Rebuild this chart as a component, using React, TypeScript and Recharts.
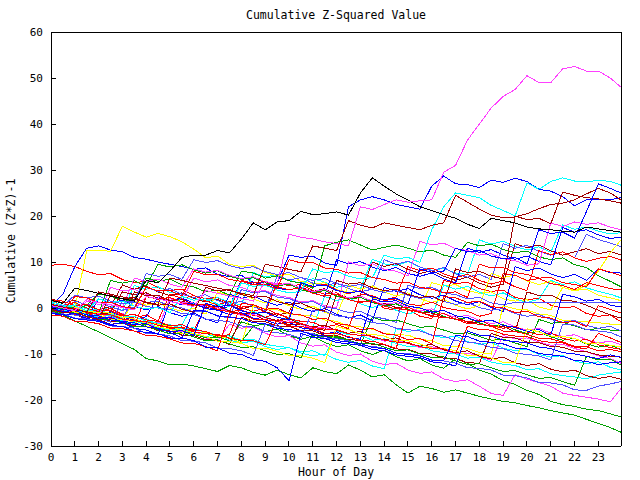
import { LineChart, Line, XAxis, YAxis } from "recharts";

// x positions: half-hour samples, last sample at the right edge of the day
const hours = [
  0, 0.5, 1, 1.5, 2, 2.5, 3, 3.5, 4, 4.5, 5, 5.5,
  6, 6.5, 7, 7.5, 8, 8.5, 9, 9.5, 10, 10.5, 11, 11.5,
  12, 12.5, 13, 13.5, 14, 14.5, 15, 15.5, 16, 16.5, 17, 17.5,
  18, 18.5, 19, 19.5, 20, 20.5, 21, 21.5, 22, 22.5, 23, 23.5, 23.95,
];
const hourTicks = [0, 1, 2, 3, 4, 5, 6, 7, 8, 9, 10, 11, 12, 13, 14, 15, 16, 17, 18, 19, 20, 21, 22, 23];
const valueTicks = [-30, -20, -10, 0, 10, 20, 30, 40, 50, 60];

const magentaHigh = [
  0.5, 0, -0.6, 1.8, 1.2, 0.7, 0.1, -0.4, 2.5, 2.0, 1.4, 0.9,
  0.3, 3.8, 3.2, 2.6, 2.1, 1.5, 5.8, 5.2, 16.0, 15.4, 15.0, 14.4,
  14.0, 13.5, 22.0, 21.4, 22.5, 23.5, 23.0, 23.3, 23.5, 29.5, 31.0, 36.5,
  40.0, 43.5, 46.0, 47.5, 50.5, 49.0, 49.0, 52.0, 52.5, 51.5, 51.5, 50.0, 48.0,
];
const blackRun = [
  1.7, 1.0, 4.3, 3.8, 3.2, 2.6, 2.0, 1.5, 6.0, 5.5, 8.0, 11.0,
  11.5, 11.5, 12.5, 12.0, 15.0, 18.5, 17.0, 18.7, 19.0, 21.0, 20.3, 20.5,
  20.9, 20.2, 25.0, 28.3, 26.5, 24.8, 23.5, 22.0, 21.2, 20.3, 19.5, 18.2,
  17.3, 19.5, 19.0, 18.5, 17.6, 17.2, 17.0, 16.7, 16.5, 17.6, 17.2, 16.8, 16.5,
];
const blueEarly = [
  0.5, 3.0, 9.0, 13.0, 13.5, 12.6, 12.2, 11.0, 10.6, 10.0, 9.5, 9.0,
  8.4, 8.7, 7.3, 6.8, 7.1, 5.6, 5.0, 5.4, 11.5, 11.0, 11.3, 9.8,
  9.2, 22.0, 23.5, 24.2, 23.5, 22.5, 22.0, 21.5, 26.5, 28.7, 27.0, 26.8,
  26.2, 27.8, 27.3, 28.2, 27.5, 25.8, 25.4, 24.2, 22.2, 23.5, 23.5, 23.5, 24.0,
];
const blueLate = [
  0, -0.8, -0.5, -1.5, -2.3, -2.0, -3.1, -3.6, -3.4, -4.6, -5.2, -4.9,
  -6.0, 1.0, 0.3, 0.6, -0.6, -1.2, -0.9, -2.0, -2.6, 5.5, 4.7, 5.0,
  3.8, 3.3, 3.6, 2.4, 1.8, 2.1, 0.9, 8.5, 7.7, 8.0, 13.0, 12.2,
  12.5, 11.3, 10.7, 11.0, 9.6, 17.0, 16.2, 16.5, 15.2, 21.0, 27.0, 26.0, 25.0,
];
const cyanTop = [
  1.0, 0.2, 0.5, -0.6, 2.0, 1.2, 1.5, 0.4, -0.2, 0.1, -1.0, 2.5,
  1.7, 2.0, 0.9, 0.3, 5.5, 4.7, 5.0, 3.9, 3.3, 3.6, 8.5, 7.7,
  8.0, 6.9, 6.3, 6.6, 11.5, 10.7, 11.0, 9.9, 17.0, 22.0, 25.0, 24.5,
  24.0, 22.3, 21.2, 20.0, 27.2, 25.8, 27.5, 28.3, 27.6, 27.4, 27.8, 27.5, 26.7,
];
const darkRedTop = [
  0.8, 0.2, -0.3, -0.9, 3.5, 3.0, 2.4, 1.9, 1.3, 0.8, 6.5, 6.0,
  5.4, 4.9, 4.3, 3.8, 3.2, 2.7, 9.5, 9.0, 8.4, 7.9, 13.5, 13.0,
  12.5, 19.0, 18.0, 17.4, 18.5, 18.0, 17.5, 17.0, 18.0, 18.5, 24.5, 23.0,
  21.5, 20.2, 19.6, 19.8, 20.5, 21.6, 22.5, 22.8, 23.5, 24.8, 26.0, 25.0, 23.5,
];
const darkRedJump = [
  -0.3, -1.0, -0.8, -1.9, -2.5, 2.8, 2.0, 2.3, 1.1, 0.6, 0.9, -0.3,
  -0.9, 4.5, 3.7, 4.0, 2.9, 2.3, 2.6, 1.4, 0.8, 1.1, -0.1, -0.7,
  6.0, 5.2, 5.5, 4.4, 3.8, 4.1, 2.9, 2.3, 2.6, 1.4, 8.5, 7.7,
  8.0, 6.9, 6.3, 20.0, 19.2, 19.5, 18.3, 25.2, 24.5, 24.0, 23.7, 23.3, 22.8,
];
const redHighStart = [
  9.3, 9.5, 9.0, 8.0, 7.2, 7.5, 6.2, 5.5, 5.8, 4.4, 3.8, 4.1,
  2.7, 2.0, 2.3, 0.8, 0.2, 0.5, -1.0, 5.5, 4.8, 5.1, 3.8, 3.0,
  3.3, 1.8, 1.3, 1.6, 0.0, -0.5, -0.2, -1.8, -2.3, 6.0, 5.3, 5.6,
  4.2, 3.6, 3.9, 2.3, 1.8, 2.1, 0.6, 0.0, 0.3, -1.2, -1.8, -1.5, -3.0,
];
const yellowEarly = [
  0.8, 0.3, -0.2, 12.5, 12.6, 12.3, 17.8, 16.5, 15.4, 16.2, 15.5, 14.4,
  12.8, 10.9, 11.3, 9.5, 9.0, 9.3, 7.7, 7.0, 7.3, 5.8, 5.2, 5.5,
  4.0, 3.4, 3.7, 2.2, 1.7, 2.0, 0.5, -0.2, 5.5, 4.8, 5.1, 3.8,
  3.2, 3.5, 2.0, 1.5, 1.8, 0.2, -0.4, 4.5, 3.8, 4.1, 2.8, 2.2, 1.6,
];
const greenLowest = [
  -0.5, -1.5, -2.8, -4.0, -5.2, -6.5, -7.8, -9.0, -11.0, -11.5, -12.4, -12.2,
  -12.6, -13.2, -13.8, -12.5, -13.0, -14.0, -14.6, -13.5, -14.5, -15.2, -13.0, -13.8,
  -14.3, -12.4, -13.5, -15.0, -14.5, -16.7, -18.5, -17.0, -17.5, -18.3, -17.8, -18.5,
  -19.2, -19.8, -20.3, -20.6, -21.2, -21.7, -22.3, -22.8, -23.3, -24.2, -25.1, -26.0, -27.0,
];
const greenLow = [
  0.5, -0.4, -0.2, -1.3, -1.0, -1.9, -1.2, -2.6, -3.5, -3.0, -4.2, -5.0,
  -4.3, -5.5, -6.4, -6.0, -7.3, -4.0, -5.1, -4.6, -6.0, -6.8, -6.1, -7.5,
  -8.4, -8.0, -9.3, -10.1, -9.2, -10.6, -11.5, -11.0, -12.4, -13.1, -11.0, -12.0,
  -13.5, -14.4, -15.8, -16.6, -17.9, -18.8, -20.3, -21.0, -21.4, -22.0, -22.3, -23.0, -23.7,
];
const magentaLow = [
  0.0, -0.8, -0.5, -2.0, -0.5, -1.4, -1.1, -2.5, -3.4, -3.1, -4.5, -5.2,
  -4.9, -6.5, -7.2, -3.5, -4.4, -4.1, -5.5, -6.3, -6.0, -7.6, -8.3, -8.0,
  -9.6, -10.3, -10.0, -11.6, -12.3, -12.0, -13.5, -14.2, -13.9, -15.4, -16.0, -15.6,
  -17.0, -18.6, -19.0, -14.5, -15.5, -16.2, -17.0, -18.5, -19.0, -19.4, -19.8, -20.4, -17.5,
];
const day01 = [
  1.2, 0.3, 0.9, -0.2, -0.9, 0.4, -0.6, 4.9, 4.1, 4.6, 3.4, 3.1,
  2.1, 1.5, 2.3, 1.2, 0.7, 7.7, 6.8, 7.2, 6.0, 5.4, 6.4, 5.6,
  4.5, 5.0, 4.1, 10.6, 9.6, 9.2, 10.1, 8.9, 8.2, 8.6, 7.6, 7.3,
  14.8, 13.9, 14.5, 13.4, 12.6, 13.3, 12.1, 18.1, 17.1, 17.6, 16.7, 16.1, 16.4,
];
const day02 = [
  0.3, -0.5, 0.2, -0.9, -1.4, -0.8, -2.0, -2.6, -1.9, 2.5, 1.6, 2.2,
  1.0, 0.3, -0.5, 0.4, 6.0, 5.1, 5.6, 4.3, 3.9, 4.6, 3.3, 2.5,
  10.5, 9.6, 10.1, 8.9, 8.1, 8.8, 7.5, 6.9, 7.6, 6.3, 5.5, 13.0,
  12.1, 12.7, 11.5, 10.6, 11.3, 10.1, 9.4, 17.5, 16.5, 17.0, 15.9, 15.1, 15.4,
];
const day03 = [
  -0.5, -1.3, 1.5, 0.7, 1.3, 0.2, -0.5, 0.2, 4.5, 3.6, 4.2, 3.0,
  2.3, 2.9, 1.6, 0.8, 1.5, 0.3, -0.6, 7.0, 6.1, 6.6, 5.4, 4.8,
  5.5, 4.2, 3.5, 4.1, 10.5, 9.5, 10.2, 8.9, 8.1, 8.8, 7.4, 6.7,
  7.3, 6.2, 14.0, 13.0, 13.6, 12.3, 11.5, 12.2, 10.9, 16.0, 14.9, 14.1, 13.3,
];
const day04 = [
  2.0, 1.1, 1.7, 0.5, -0.3, 0.3, 5.0, 4.1, 4.8, 3.5, 2.7, 3.3,
  2.1, 1.3, 1.9, 0.6, -0.2, 0.5, -0.8, -1.6, -0.9, 4.5, 3.6, 4.2,
  2.9, 2.1, 2.8, 10.0, 9.0, 9.7, 8.4, 7.5, 8.1, 6.9, 6.0, 6.7,
  5.4, 4.5, 5.2, 14.0, 13.1, 13.7, 12.4, 11.5, 12.2, 12.9, 11.8, 12.3, 11.5,
];
const day05 = [
  0.0, -0.8, -0.2, -1.4, -2.0, -1.3, -2.6, 1.5, 0.6, 1.2, 0.0, -0.7,
  -0.1, -1.3, 3.5, 2.6, 3.2, 1.9, 1.1, 1.8, 0.5, -0.3, 0.4, -0.9,
  -1.7, 5.0, 4.1, 4.8, 3.5, 2.6, 3.3, 2.0, 1.2, 1.9, 0.6, -0.2,
  0.5, 7.5, 6.6, 7.2, 5.9, 5.1, 5.8, 4.5, 3.7, 5.0, 8.0, 12.0, 14.8,
];
const day06 = [
  1.5, 0.6, 1.2, 0.0, -0.8, -0.1, -1.4, -2.2, -1.5, -2.8, 3.0, 2.1,
  2.7, 1.5, 0.7, 1.4, 0.1, -0.7, 0.0, -1.3, -2.1, 5.5, 4.6, 5.2,
  3.9, 3.1, 3.8, 2.5, 1.7, 2.4, 9.0, 8.1, 8.7, 7.4, 6.6, 7.3,
  6.0, 5.2, 5.9, 4.6, 3.8, 12.5, 11.6, 12.2, 10.9, 10.1, 10.8, 11.2, 10.4,
];
const day07 = [
  -1.0, -1.8, -1.2, -2.4, 2.0, 1.1, 1.7, 0.4, -0.4, 0.3, -1.0, -1.8,
  -1.1, -2.4, -3.2, 3.0, 2.1, 2.7, 1.4, 0.6, 1.3, 0.0, -0.8, -0.1,
  -1.4, -2.2, -1.5, -2.8, 4.5, 3.6, 4.2, 2.9, 2.1, 2.8, 1.5, 0.7,
  1.4, 0.1, -0.7, 9.0, 8.1, 8.7, 7.4, 6.6, 7.3, 6.0, 8.5, 7.7, 7.6,
];
const day08 = [
  0.6, -0.2, 0.4, -0.8, -1.6, -0.9, -2.2, -3.0, -2.3, -3.6, -4.4, -3.7,
  1.0, 0.1, 0.7, -0.6, -1.4, -0.7, -2.0, -2.8, -2.1, -3.4, -4.2, 2.5,
  1.6, 2.2, 0.9, 0.1, 0.8, -0.5, -1.3, -0.6, -1.9, 5.0, 4.1, 4.7,
  3.4, 2.6, 3.3, 2.0, 1.2, 1.9, 6.0, 5.1, 5.7, 4.4, 3.6, 3.0, 2.2,
];
const day09 = [
  -0.2, -0.6, -1.5, -1.2, -2.0, -2.3, -1.4, -2.5, -3.1, -3.4, -4.5, -4.1,
  -5.0, 0.5, 0.1, -0.9, -0.4, -1.6, -2.0, -1.1, -2.3, -2.9, -3.1, -4.2,
  -3.6, -4.5, 3.0, 2.7, 1.6, 2.0, 0.9, 0.5, 1.3, 0.1, -0.4, -0.7,
  -1.8, -1.2, 7.5, 7.1, 6.0, 6.4, 5.3, 4.9, 4.0, 5.5, 4.9, 4.2, 3.9,
];
const day10 = [
  0.9, 0.2, -0.3, 0.6, 3.0, 2.6, 1.5, 1.9, 6.5, 5.8, 6.3, 5.0,
  4.6, 3.5, 3.9, 2.8, 8.0, 7.6, 6.5, 7.0, 5.9, 5.4, 4.3, 13.5,
  14.3, 14.8, 13.7, 12.6, 13.2, 13.7, 13.0, 12.2, 12.6, 11.5, 11.0, 14.3,
  13.5, 13.9, 12.7, 12.0, 12.4, 11.1, 10.5, 10.9, 9.4, 8.8, 7.0, 5.8, 4.6,
];
const day11 = [
  0.2, -0.5, -0.1, -1.3, -1.7, -2.5, -2.2, 2.0, 1.2, 1.5, 0.4, 0.0,
  -0.9, -0.6, -1.8, -2.1, 4.0, 3.3, 3.6, 2.4, 2.0, 1.1, 1.4, 0.2,
  -0.2, -1.0, -0.7, -1.9, -2.3, -3.1, 5.0, 4.2, 4.5, 3.3, 2.9, 2.0,
  2.3, 1.1, 0.7, 1.2, 1.2, 1.2, 1.2, 1.2, 1.2, 1.2, 1.2, 1.2, 1.2,
];
const day12 = [
  -0.8, -1.5, -1.1, -2.3, -2.7, -3.6, -3.2, -4.4, -4.8, -5.7, 1.5, 0.7,
  1.1, -0.1, -0.5, -1.4, -1.0, -2.2, -2.6, -3.5, -3.1, -4.3, -4.7, -5.6,
  -5.2, -6.4, -6.8, 2.0, 1.3, 1.6, 0.4, 0.0, -0.9, -0.5, -1.7, -2.1,
  -3.0, -2.6, -3.8, -4.2, -5.1, -4.7, -5.9, 3.0, 2.4, 1.5, 1.9, 0.6, 0.2,
];
const day13 = [
  0.4, 0.0, -0.9, -0.6, -1.8, 4.5, 3.7, 4.1, 2.9, 2.6, 1.5, 1.8,
  6.5, 5.7, 6.1, 4.9, 4.5, 3.5, 3.8, 2.7, 2.3, 1.3, 1.6, 0.5,
  0.0, 10.0, 9.2, 9.6, 8.4, 8.0, 7.0, 14.5, 13.7, 14.1, 12.9, 12.5,
  11.5, 11.8, 10.7, 10.3, 9.3, 9.6, 18.5, 17.7, 18.7, 18.2, 18.5, 17.6, 17.0,
];
const day14 = [
  1.8, 1.5, 0.5, 0.8, -0.4, -0.6, -1.7, -1.4, -2.6, -2.9, -3.9, -3.6,
  -4.8, -5.1, -6.1, -5.8, 1.0, 0.7, -0.3, 0.0, -1.2, -1.5, -2.5, -2.2,
  -3.4, -3.7, -4.7, -4.4, -5.6, -5.9, -6.9, -6.6, -7.8, 2.5, 2.2, 1.2,
  1.5, 0.3, 0.0, -1.0, -0.7, -1.9, -2.2, -3.2, -2.9, -4.1, 0.5, -0.3, -1.1,
];
const day15 = [
  -0.6, -1.4, -1.3, -2.5, -2.6, -3.5, -3.4, 3.5, 2.7, 2.8, 1.6, 1.5,
  0.6, 0.7, -0.5, -0.6, -1.5, -1.4, -2.6, -2.7, -3.6, -3.5, -4.7, -4.8,
  3.0, 2.2, 2.3, 1.1, 1.0, 0.1, 0.2, -1.0, -1.1, -2.0, -1.9, -3.1,
  -3.2, -4.1, -4.0, -5.2, 3.5, 2.7, 2.8, 1.6, 1.5, 0.6, -0.5, -1.5, -2.2,
];
const day16 = [
  1.1, 0.4, 0.2, -0.7, -1.0, -1.1, -2.0, -2.3, -3.4, -3.5, -4.0, -4.9,
  -5.2, -5.3, -6.2, -6.5, -7.6, 0.5, -0.2, -0.4, -1.3, -1.6, -1.7, -2.6,
  -2.9, -4.0, -4.1, -4.6, -5.5, -5.8, -5.9, -6.8, -7.1, -8.2, -8.3, -8.8,
  -9.7, -10.0, 0.5, -0.2, -0.4, -1.3, -1.6, -2.7, -2.8, -3.0, -3.2, -3.5, -3.7,
];
const day17 = [
  0.0, -0.9, -0.7, -1.5, -2.3, -2.1, -2.9, -3.7, -3.5, -4.3, -5.1, -4.9,
  -5.7, -6.5, -6.3, -7.1, -3.0, -3.8, -3.6, -4.4, -5.2, -5.0, -5.8, -6.6,
  -6.4, -7.2, -8.0, -2.0, -2.8, -2.6, -3.4, -4.2, -4.0, -4.8, -5.6, -5.4,
  -6.2, -7.0, -6.8, -7.6, -8.4, -2.5, -3.3, -3.1, -3.9, -4.7, -4.5, -4.8, -5.0,
];
const day18 = [
  -0.4, -0.6, -1.6, -1.9, -2.2, -3.1, 1.5, 1.3, 0.3, 0.0, -0.3, -1.2,
  -1.4, -2.4, -2.7, -3.0, -3.9, -4.1, -5.1, -5.4, -5.7, -6.6, -0.5, -0.7,
  -1.7, -2.0, -2.3, -3.2, -3.4, -4.4, -4.7, -5.0, -5.9, -6.1, -7.1, -7.4,
  -7.7, -8.6, -8.8, -9.8, -10.1, -10.4, -11.3, -3.5, -3.7, -4.7, -5.0, -5.3, -6.3,
];
const day19 = [
  0.7, 0.0, -0.1, -1.0, -1.4, -1.5, -2.4, -2.8, -2.9, -3.8, -4.2, -4.3,
  -5.2, -5.6, -5.7, -6.6, -7.0, -7.1, -8.0, -2.5, -3.2, -3.3, -4.2, -4.6,
  -4.7, -5.6, -6.0, -6.1, -7.0, -7.4, -7.5, -8.4, -8.8, -8.9, -9.8, -4.0,
  -4.7, -4.8, -5.7, -6.1, -6.2, -7.1, -7.5, -7.6, -8.5, -8.9, -5.5, -6.5, -7.5,
];
const day20 = [
  1.4, 0.6, 0.5, -0.6, -0.3, -1.3, -2.0, -1.8, -2.9, -3.3, -3.6, -4.5,
  -4.3, -5.4, -5.8, -6.1, -7.0, -6.8, -7.9, -8.3, -8.6, -9.5, -9.3, -10.4,
  -5.0, -5.8, -5.9, -7.0, -6.7, -7.7, -8.4, -8.2, -9.3, -9.7, -10.0, -10.9,
  -10.7, -11.8, -12.2, -12.5, -13.4, -13.2, -14.3, -14.7, -15.0, -15.4, -14.6, -14.2, -13.9,
];
const day21 = [
  -1.2, -1.4, -2.3, -2.6, -2.9, -3.8, -4.0, -5.0, -5.3, -5.6, -6.5, -6.7,
  -0.5, -0.7, -1.7, -2.0, -2.3, -3.2, -3.4, -4.4, -4.7, -5.0, -5.9, -6.1,
  -7.1, -7.4, -7.7, -8.6, -8.8, -9.8, -10.1, -10.4, -11.3, -11.5, -6.0, -6.2,
  -7.2, -7.5, -7.8, -8.7, -8.9, -9.9, -10.2, -10.5, -11.4, -11.6, -12.3, -11.9, -11.7,
];
const day22 = [
  0.3, -0.4, -0.5, -1.5, -1.7, -2.6, -2.9, -3.2, -4.1, -4.4, -5.3, -6.5,
  -7.1, -8.5, -8.7, -9.8, -10.1, -11.2, -11.6, -13.0, -15.8, -5.5, -6.4, -6.6,
  -7.5, -7.8, -8.1, -9.0, -9.3, -10.2, -10.5, -10.8, -11.7, -12.0, -12.6, -5.0,
  -5.9, -6.1, -7.0, -7.3, -7.6, -8.5, -8.8, -9.7, -10.0, -10.5, -11.0, -10.2, -10.7,
];
const day23 = [
  -0.3, -1.1, -0.9, -1.8, -2.6, -2.4, -3.3, -4.1, -3.9, -4.8, -5.6, -5.4,
  -6.3, -7.1, -6.9, -7.8, -8.6, -8.4, -9.3, -10.1, -9.9, -10.8, -5.5, -6.3,
  -6.1, -7.0, -7.8, -7.6, -8.5, -9.3, -9.1, -10.0, -10.8, -10.6, -11.5, -12.3,
  -12.1, -13.0, -13.8, -13.6, -14.5, -15.3, -15.1, -16.0, -16.8, -10.5, -11.3, -11.1, -12.4,
];
const day24 = [
  0.8, 0.1, -0.1, -1.0, -1.2, -1.9, -2.8, -2.6, -3.3, -4.2, 2.0, 1.3,
  1.1, 0.2, 0.0, -0.7, -1.6, -1.4, -2.1, -3.0, -2.8, -3.5, -4.4, -4.2,
  -4.9, -5.8, -5.6, -6.3, -7.2, -7.0, -7.7, -8.6, -8.4, -9.1, -10.0, -9.8,
  -10.5, -11.4, -6.0, -6.7, -6.5, -7.4, -8.1, -7.9, -8.8, -9.5, -10.4, -11.0, -12.0,
];
const day25 = [
  -0.1, -0.9, -1.0, -1.9, -2.0, -2.9, -3.0, -3.9, -4.0, -4.9, -5.0, -5.9,
  -6.0, -6.9, -7.0, -7.9, -2.0, -2.9, -3.0, -3.9, -4.0, -4.9, -5.0, -5.9,
  -6.0, -6.9, -7.0, -7.9, -8.0, -8.9, -9.0, -9.9, -10.0, -10.9, -11.0, -11.9,
  -12.0, -5.5, -6.4, -6.5, -7.4, -7.5, -8.4, -8.5, -9.4, -9.5, -10.2, -10.5, -10.7,
];
const day26 = [
  0.5, 0.1, -0.9, -1.0, -1.4, -2.5, -2.4, -3.1, -4.0, -4.1, -4.6, -5.6,
  -5.5, -6.2, -7.2, -7.3, -7.7, -8.8, -8.7, -9.4, -10.3, -10.4, -10.9, -11.9,
  -4.0, -4.7, -5.6, -5.7, -6.1, -7.2, -7.1, -7.8, -8.7, -8.8, -9.3, -10.3,
  -10.2, -10.9, -11.8, -11.9, -4.5, -5.2, -6.1, -6.2, -6.6, -7.7, -7.6, -8.1, -8.5,
];
const day27 = [
  -1.5, -1.8, -2.9, -3.0, -3.4, -4.4, -4.5, -5.0, -6.0, -6.1, -6.7, -7.6,
  -7.7, -8.4, -9.3, -1.0, -1.3, -2.4, -2.5, -2.9, -3.9, -4.0, -4.5, -5.5,
  -5.6, -6.2, -7.1, -7.2, -7.9, -8.8, -0.5, -0.8, -1.9, -2.0, -2.4, -3.4,
  -3.5, -4.0, -5.0, -5.1, -5.7, -6.6, -6.7, -7.4, -8.3, -8.4, -9.3, -9.0, -9.5,
];
const day28 = [
  0.0, -0.7, 2.5, 2.2, 1.2, 1.3, 0.3, -0.1, 4.5, 3.7, 3.8, 2.6,
  8.0, 7.2, 7.3, 6.2, 5.8, 5.0, 5.2, 4.1, 10.5, 9.8, 9.9, 8.7,
  8.4, 7.6, 7.7, 6.6, 6.2, 5.4, 5.6, 4.5, 4.1, 3.3, 3.5, 2.3,
  9.5, 8.7, 8.8, 7.7, 7.3, 6.5, 6.6, 5.5, 5.1, 4.6, 8.5, 7.8, 7.0,
];
const day29 = [
  -0.9, -1.2, -2.2, -2.4, -2.9, -3.9, -4.0, -4.4, -5.5, -5.6, -6.1, -7.1,
  -7.2, -7.6, -8.7, -8.8, -9.3, -10.3, -3.5, -3.9, -5.0, -5.1, -5.6, -6.6,
  -6.7, -7.1, -8.2, -8.3, -8.8, -9.8, -9.9, -10.3, -11.4, -11.5, -12.0, -13.0,
  -13.1, -13.5, -14.6, -14.7, -15.2, -16.2, -16.3, -16.7, -17.8, -17.9, -17.0, -16.5, -16.0,
];
const day30 = [
  0.5, -0.2, 0.3, -0.6, -1.2, 6.0, 5.4, 5.9, 4.8, 9.5, 8.9, 9.4,
  8.3, 7.6, 8.1, 6.9, 6.2, 6.6, 5.5, 4.8, 5.2, 4.0, 3.3, 3.8,
  2.6, 1.9, 2.3, 1.2, 0.5, 0.9, -0.3, -1.0, -0.6, -1.8, -2.5, -2.1,
  -3.3, -4.0, -3.6, -4.8, -5.5, -5.1, -6.3, -7.0, -6.6, -7.8, -8.5, -8.1, -9.0,
];
const day31 = [
  0.2, -0.4, -1.1, 1.5, 0.8, 1.2, 0.1, 6.5, 5.8, 6.3, 5.2, 4.5,
  8.5, 7.8, 8.2, 7.1, 6.4, 6.8, 5.7, 5.0, 5.4, 4.3, 3.6, 4.0,
  2.9, 2.2, 2.6, 1.5, 0.8, 1.2, 0.1, -0.6, -0.2, -1.3, -2.0, -1.6,
  -2.7, -3.4, -3.0, -4.1, -4.8, -4.4, -5.5, -6.2, -5.8, -6.9, -7.6, -7.2, -8.0,
];
const day32 = [
  1.0, 0.4, 2.8, 2.2, 2.6, 1.5, 0.9, 1.3, 7.5, 6.9, 7.3, 6.2,
  10.5, 9.9, 10.3, 9.2, 8.6, 9.0, 7.9, 7.3, 7.7, 6.6, 6.0, 6.4,
  5.3, 4.7, 5.1, 4.0, 3.4, 3.8, 2.7, 2.1, 2.5, 1.4, 0.8, 1.2,
  0.1, -0.5, -0.1, -1.2, -1.8, -1.4, -2.5, -3.1, -2.7, -3.8, -4.4, -4.0, -5.0,
];
const day33 = [
  -0.4, -1.1, -0.7, -1.9, -2.5, -2.1, -3.3, -3.9, 2.5, 1.9, 2.3, 1.1,
  0.5, 0.9, -0.3, -0.9, 6.0, 5.4, 5.8, 4.6, 4.0, 4.4, 3.2, 2.6,
  3.0, 1.8, 1.2, 1.6, 0.4, -0.2, 0.2, -1.0, -1.6, -1.2, -2.4, -3.0,
  -2.6, -3.8, -4.4, -4.0, -5.2, -5.8, -5.4, -6.6, -7.2, -6.8, -8.0, -8.6, -9.0,
];
const day34 = [
  0.6, 0.0, 0.4, -0.8, -1.4, -1.0, 3.5, 2.9, 3.3, 2.1, 1.5, 1.9,
  0.7, 0.1, 0.5, -0.7, -1.3, -0.9, -2.1, -2.7, -2.3, -3.5, -4.1, -3.7,
  -4.9, -5.5, -5.1, -6.3, -6.9, -6.5, -7.7, -8.3, -7.9, -9.1, -9.7, -9.3,
  -10.5, -11.1, -10.7, -11.9, -12.5, -12.1, -13.3, -13.9, -13.5, -14.7, -15.3, -14.9, -15.5,
];
const day35 = [
  0.1, -0.6, -0.2, -1.4, -2.0, -1.6, -2.8, -3.4, -3.0, -4.2, -4.8, -4.4,
  -5.6, -6.2, -5.8, -7.0, -7.6, -7.2, -8.4, -9.0, -8.6, -9.8, -10.4, -10.0,
  -11.2, -11.8, -11.4, -12.6, -13.2, -4.5, -5.1, -4.7, -5.9, -6.5, -6.1, -7.3,
  -7.9, -7.5, -8.7, -9.3, -8.9, -10.1, -10.7, -10.3, -11.5, -12.1, -11.7, -12.9, -13.5,
];

const RED = "#ff0000";
const GREEN = "#00a000";
const BLUE = "#0000ff";
const MAGENTA = "#ff40ff";
const CYAN = "#00ffff";
const DARKRED = "#a00000";
const YELLOW = "#ffff00";
const SLATE = "#5050ff";
const BLACK = "#000000";

const series = [
  { id: "redHighStart", values: redHighStart, color: RED },
  { id: "greenLow", values: greenLow, color: GREEN },
  { id: "blueEarly", values: blueEarly, color: BLUE },
  { id: "magentaLow", values: magentaLow, color: MAGENTA },
  { id: "day01", values: day01, color: CYAN },
  { id: "day04", values: day04, color: DARKRED },
  { id: "yellowEarly", values: yellowEarly, color: YELLOW },
  { id: "day03", values: day03, color: SLATE },
  { id: "day06", values: day06, color: RED },
  { id: "day10", values: day10, color: GREEN },
  { id: "day02", values: day02, color: BLUE },
  { id: "day13", values: day13, color: MAGENTA },
  { id: "day08", values: day08, color: CYAN },
  { id: "day15", values: day15, color: DARKRED },
  { id: "day05", values: day05, color: YELLOW },
  { id: "day11", values: day11, color: SLATE },
  { id: "day09", values: day09, color: RED },
  { id: "day30", values: day30, color: GREEN },
  { id: "day17", values: day17, color: GREEN },
  { id: "day07", values: day07, color: BLUE },
  { id: "day31", values: day31, color: MAGENTA },
  { id: "day24", values: day24, color: MAGENTA },
  { id: "day20", values: day20, color: CYAN },
  { id: "day35", values: day35, color: CYAN },
  { id: "day25", values: day25, color: DARKRED },
  { id: "day34", values: day34, color: DARKRED },
  { id: "day16", values: day16, color: YELLOW },
  { id: "day18", values: day18, color: SLATE },
  { id: "day32", values: day32, color: SLATE },
  { id: "day14", values: day14, color: RED },
  { id: "day33", values: day33, color: RED },
  { id: "day23", values: day23, color: GREEN },
  { id: "day12", values: day12, color: BLUE },
  { id: "cyanTop", values: cyanTop, color: CYAN },
  { id: "darkRedJump", values: darkRedJump, color: DARKRED },
  { id: "day26", values: day26, color: YELLOW },
  { id: "day29", values: day29, color: SLATE },
  { id: "day19", values: day19, color: RED },
  { id: "greenLowest", values: greenLowest, color: GREEN },
  { id: "day21", values: day21, color: BLUE },
  { id: "darkRedTop", values: darkRedTop, color: DARKRED },
  { id: "day27", values: day27, color: RED },
  { id: "day22", values: day22, color: BLUE },
  { id: "day28", values: day28, color: RED },
  { id: "blueLate", values: blueLate, color: BLUE },
  { id: "blackRun", values: blackRun, color: BLACK },
  { id: "magentaHigh", values: magentaHigh, color: MAGENTA },
];

const rows = hours.map((h, i) => {
  const row: Record<string, number> = { h };
  series.forEach((s) => {
    row[s.id] = s.values[i];
  });
  return row;
});

const FONT = "'DejaVu Sans Mono', monospace";
const tickStyle = { fill: "#000", fontSize: 11, fontFamily: FONT };

export default function App() {
  return (
    <div
      style={{
        position: "absolute",
        left: 0,
        top: 0,
        width: 640,
        height: 480,
        background: "#fff",
        shapeRendering: "crispEdges",
        fontFamily: FONT,
        fontSize: 11.5,
        color: "#000",
      }}
    >
      <LineChart width={640} height={480} data={rows} margin={{ top: 31, right: 18, bottom: 4, left: 11 }}>
        <XAxis
          xAxisId="bottom"
          dataKey="h"
          type="number"
          domain={[0, 23.95]}
          ticks={hourTicks}
          interval={0}
          allowDataOverflow
          height={30}
          stroke="#000"
          tickSize={-5}
          tickMargin={12}
          tick={tickStyle}
        />
        <XAxis
          xAxisId="top"
          orientation="top"
          dataKey="h"
          type="number"
          domain={[0, 23.95]}
          ticks={hourTicks}
          interval={0}
          allowDataOverflow
          height={1}
          stroke="#000"
          tickSize={-5}
          tick={false}
        />
        <YAxis
          yAxisId="left"
          type="number"
          domain={[-30, 60]}
          ticks={valueTicks}
          interval={0}
          allowDataOverflow
          width={40}
          stroke="#000"
          tickSize={-5}
          tickMargin={13}
          tick={tickStyle}
        />
        <YAxis
          yAxisId="right"
          orientation="right"
          type="number"
          domain={[-30, 60]}
          ticks={valueTicks}
          interval={0}
          width={1}
          stroke="#000"
          tickSize={-5}
          tick={false}
        />
        {series.map((s) => (
          <Line
            key={s.id}
            xAxisId="bottom"
            yAxisId="left"
            type="linear"
            dataKey={s.id}
            stroke={s.color}
            strokeWidth={1}
            dot={false}
            activeDot={false}
            isAnimationActive={false}
          />
        ))}
      </LineChart>
      <div style={{ position: "absolute", left: 51, width: 570, top: 8, textAlign: "center" }}>
        Cumulative Z-Squared Value
      </div>
      <div style={{ position: "absolute", left: 51, width: 570, top: 465, textAlign: "center" }}>
        Hour of Day
      </div>
      <div
        style={{
          position: "absolute",
          left: 11,
          top: 241,
          transform: "translate(-50%, -50%) rotate(-90deg)",
          whiteSpace: "nowrap",
        }}
      >
        Cumulative (Z*Z)-1
      </div>
    </div>
  );
}
